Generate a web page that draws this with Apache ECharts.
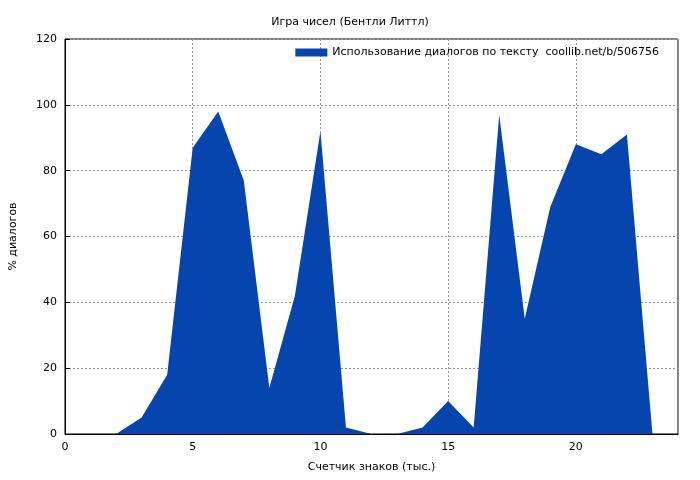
<!DOCTYPE html>
<html>
<head>
<meta charset="utf-8">
<script src="https://cdn.jsdelivr.net/npm/echarts@6/dist/echarts.min.js"></script>
<style>html,body{margin:0;background:#fff}#c{width:700px;height:480px}</style>
</head>
<body>
<div id="c"></div>
<script>
// data
const xValues = [0, 1, 2, 3, 4, 5, 6, 7, 8, 9, 10, 11, 12, 13, 14, 15, 16, 17, 18, 19, 20, 21, 22, 23]
const usage = [0, 0, 0, 5, 18, 87, 98, 77, 14, 42, 92, 2, 0, 0, 2, 10, 2, 97, 35, 69, 88, 85, 91, 0]
const seriesName = 'Использование диалогов по тексту  coollib.net/b/506756'

const chart = echarts.init(document.getElementById('c'))
const font = { fontFamily: 'DejaVu Sans', fontSize: 11, color: '#000' }
const dashed = { show: true, lineStyle: { color: '#999', type: [2, 2], width: 1 } }

chart.setOption({
    animation: false,
    title: {
        text: 'Игра чисел (Бентли Литтл)',
        left: 'center', top: 12,
        textStyle: { ...font, fontWeight: 'normal' },
    },
    legend: {
        top: 42, right: 36,
        itemWidth: 32, itemHeight: 8,
        icon: 'rect',
        textStyle: font,
        data: [seriesName],
    },
    grid: { left: 62, right: 22, top: 39, bottom: 46, show: true, borderColor: '#000', borderWidth: 1 },
    xAxis: {
        type: 'value', min: 0, max: 24, interval: 5,
        name: 'Счетчик знаков (тыс.)', nameLocation: 'middle', nameGap: 28,
        nameTextStyle: font,
        axisLabel: { ...font, showMaxLabel: false },
        axisLine: { lineStyle: { color: '#000' } },
        axisTick: { inside: true, lineStyle: { color: '#000' } },
        splitLine: dashed,
    },
    yAxis: {
        type: 'value', min: 0, max: 120, interval: 20,
        name: '% диалогов', nameLocation: 'middle', nameGap: 46,
        nameTextStyle: font,
        axisLabel: font,
        axisLine: { show: true, lineStyle: { color: '#000' } },
        axisTick: { show: true, inside: true, lineStyle: { color: '#000' } },
        splitLine: dashed,
    },
    series: [{
        name: seriesName,
        type: 'line',
        data: xValues.map((x, i) => [x, usage[i]]),
        showSymbol: false,
        color: '#0645ad',
        lineStyle: { width: 0 },
        areaStyle: { color: '#0645ad', opacity: 1 },
    }],
})
</script>
</body>
</html>
